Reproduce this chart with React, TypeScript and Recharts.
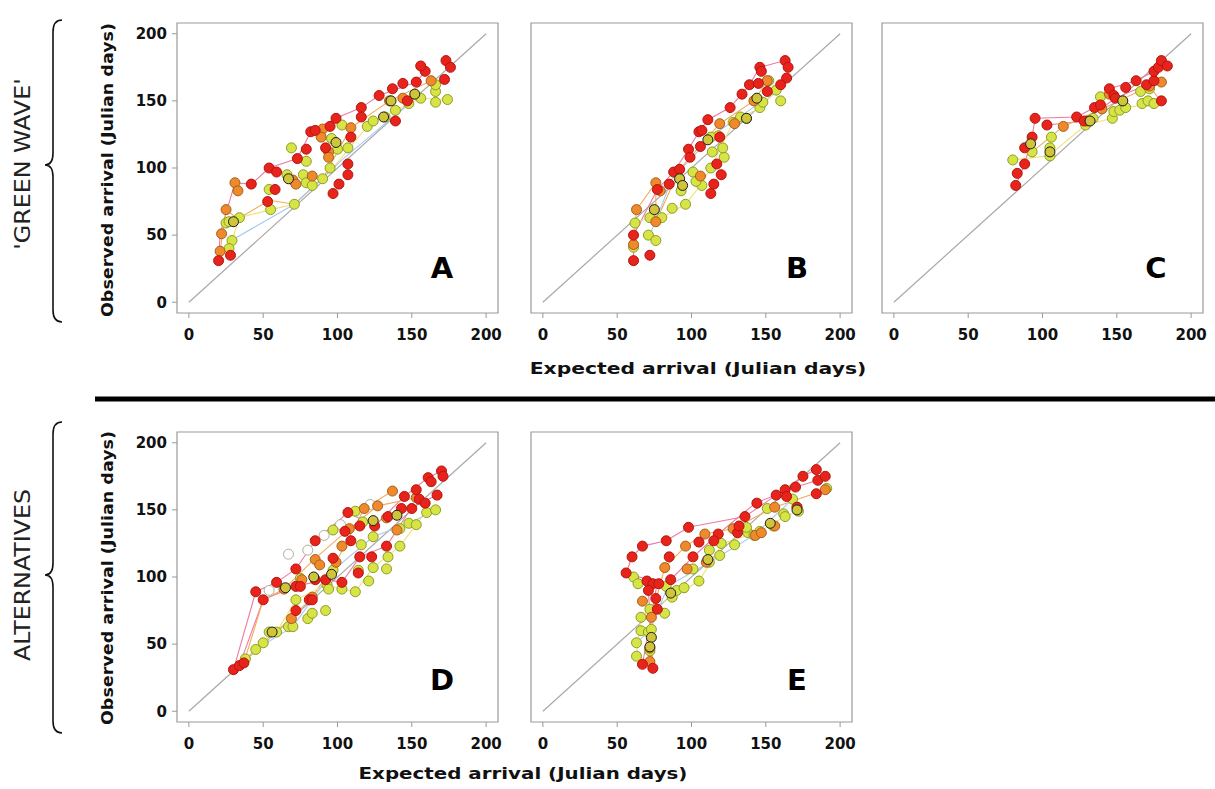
import React from "react";
import { ReferenceArea, ReferenceLine, Scatter, ScatterChart, XAxis, YAxis } from "recharts";

type P = [number, number];

const TICKS = [0, 50, 100, 150, 200];
const DOMAIN: [number, number] = [-8, 208];

// panel A
const aRed: P[] = [[20,31],[28,35],[42,88],[54,100],[59,97],[53,75],[58,84],[82,127],[85,128],[99,137],[95,131],[109,123],[107,103],[107,95],[101,88],[97,81],[92,115],[79,114],[73,107],[116,145],[128,154],[137,159],[144,163],[139,135],[153,164],[159,172],[156,176],[173,180],[176,175],[172,166],[116,138],[147,150]];
const aOrange: P[] = [[31,89],[33,83],[25,69],[22,51],[21,38],[90,129],[94,112],[94,108],[83,94],[70,91],[72,88],[135,150],[144,152],[163,165],[89,123],[109,130]];
const aYellow: P[] = [[25,59],[27,60],[34,63],[29,46],[27,40],[54,84],[55,69],[71,73],[69,115],[66,95],[77,95],[79,89],[83,87],[90,92],[95,100],[96,122],[100,114],[107,115],[103,132],[120,131],[124,135],[132,138],[139,143],[148,148],[156,152],[166,157],[166,149],[174,151],[166,162],[79,105]];
const aDark: P[] = [[30,60],[131,138],[136,150],[152,155],[99,119],[67,92]];
const aPink: P[] = [[20,31],[21,51],[31,89],[42,88],[54,100],[73,107],[82,127],[99,137],[116,145],[128,154],[153,164],[159,172]];
const aOrangeLine: P[] = [[21,38],[25,69],[33,62],[54,76],[71,73],[90,92],[109,130],[135,150],[163,165]];
const aYellowLine: P[] = [[27,40],[29,46],[34,63],[55,69],[71,73],[97,100],[120,131],[139,143],[156,152],[174,151]];
const aBlue: P[] = [[30,47],[71,73],[104,107],[148,148]];

// panel B
const bRed: P[] = [[61,31],[72,35],[61,50],[77,84],[85,88],[88,97],[92,99],[98,114],[99,108],[105,127],[107,128],[111,136],[106,116],[120,95],[117,103],[115,88],[113,81],[126,145],[134,155],[139,162],[146,175],[147,172],[145,163],[151,157],[163,180],[165,175],[164,167],[160,162],[119,123]];
const bOrange: P[] = [[63,69],[76,89],[79,83],[76,60],[61,43],[106,94],[119,133],[129,133],[142,150],[151,165]];
const bYellow: P[] = [[62,59],[61,41],[72,63],[71,50],[76,46],[80,63],[87,70],[96,73],[93,83],[101,97],[107,87],[103,90],[113,100],[122,108],[121,115],[114,112],[118,124],[113,123],[128,134],[133,138],[137,137],[146,145],[148,149],[157,158],[160,150],[152,165]];
const bDark: P[] = [[92,92],[94,87],[111,121],[137,137],[144,152],[75,69]];
const bPink: P[] = [[61,31],[61,50],[77,84],[88,97],[98,114],[105,127],[111,136],[126,145],[139,162],[146,175],[163,180]];
const bOrangeLine: P[] = [[61,43],[63,69],[76,89],[76,60],[92,99],[119,133],[142,150],[151,165]];
const bYellowLine: P[] = [[61,41],[62,59],[72,63],[80,63],[96,73],[106,87],[113,100],[128,134],[146,145],[157,158]];
const bBlue: P[] = [[72,50],[87,92],[115,125],[148,150]];

// panel C
const cRed: P[] = [[82,87],[83,96],[88,103],[88,115],[93,123],[95,137],[103,132],[123,138],[128,135],[135,145],[139,147],[145,159],[148,154],[149,152],[156,160],[163,165],[170,162],[175,165],[175,172],[178,175],[180,180],[184,176],[180,150]];
const cOrange: P[] = [[114,131],[130,135],[140,144],[145,155],[172,161],[180,164]];
const cYellow: P[] = [[80,106],[93,112],[105,115],[105,109],[106,123],[129,132],[134,137],[139,153],[147,137],[148,142],[152,143],[156,145],[166,157],[167,148],[171,150],[175,148],[154,150],[172,159]];
const cDark: P[] = [[132,135],[154,150],[105,112],[92,118]];
const cPink: P[] = [[82,87],[88,103],[93,123],[95,137],[123,138],[135,145],[145,159],[163,165],[175,172],[180,180]];
const cPink2: P[] = [[103,132],[128,135],[149,152],[170,162]];
const cOrangeLine: P[] = [[93,112],[114,131],[140,144],[172,161],[180,149]];
const cYellowLine: P[] = [[80,106],[104,109],[129,132],[147,137],[156,145],[175,148]];

// panel D
const dRed: P[] = [[30,31],[34,34],[37,36],[45,89],[50,83],[59,96],[72,93],[72,75],[72,106],[75,93],[81,83],[83,83],[85,98],[85,127],[92,98],[97,114],[103,96],[107,148],[105,134],[109,127],[115,138],[115,115],[114,103],[123,115],[125,138],[133,123],[134,145],[143,151],[145,160],[150,151],[153,165],[155,158],[161,174],[163,171],[170,179],[171,175],[167,161],[159,155]];
const dOrange: P[] = [[64,91],[69,69],[76,98],[85,113],[88,109],[99,111],[103,123],[108,136],[118,151],[127,153],[137,164],[140,135],[153,159],[83,85],[133,144]];
const dYellow: P[] = [[38,39],[45,46],[50,51],[54,59],[59,59],[67,63],[70,63],[72,83],[75,99],[80,69],[83,73],[92,75],[93,94],[94,91],[97,135],[97,105],[103,91],[112,89],[114,105],[117,141],[121,97],[124,107],[133,106],[134,115],[142,123],[142,136],[148,140],[153,139],[160,148],[166,150],[116,124],[124,130],[112,149]];
const dHollow: P[] = [[67,117],[54,90],[91,131],[80,120],[102,139],[122,154]];
const dDark: P[] = [[65,92],[84,100],[96,102],[124,142],[140,146],[56,59]];
const dPink: P[] = [[30,31],[45,89],[59,96],[72,106],[85,127],[107,148],[125,138],[145,160],[161,174],[170,179]];
const dPink2: P[] = [[34,34],[50,83],[71,93],[93,98],[103,96],[115,115],[133,123],[150,152],[167,161]];
const dOrangeLine: P[] = [[37,36],[50,83],[64,91],[84,113],[108,136],[127,153],[153,159]];
const dOrangeLine2: P[] = [[38,39],[58,59],[69,69],[83,85],[99,111],[118,151],[137,164]];
const dYellowLine: P[] = [[38,39],[50,51],[59,59],[72,83],[92,94],[112,89],[124,107],[142,123],[159,148]];
const dBlue: P[] = [[45,46],[70,63],[97,105],[124,130],[148,140],[166,150]];

// panel E
const eRed: P[] = [[67,35],[74,32],[56,103],[60,115],[67,123],[83,127],[98,137],[85,115],[86,98],[101,115],[105,126],[118,132],[115,127],[70,97],[74,95],[78,95],[71,90],[76,84],[77,76],[131,133],[132,138],[136,145],[144,155],[157,161],[163,165],[170,167],[175,175],[184,180],[185,172],[190,175],[184,162],[164,160],[171,152]];
const eOrange: P[] = [[67,82],[72,37],[72,47],[73,70],[82,107],[96,123],[97,106],[109,132],[110,111],[128,136],[143,131],[156,152],[156,138],[190,165],[147,133]];
const eYellow: P[] = [[63,41],[63,51],[66,60],[66,70],[72,76],[82,73],[71,59],[73,61],[72,45],[61,100],[64,95],[83,93],[87,85],[90,90],[95,92],[105,97],[101,106],[112,111],[112,120],[119,116],[120,125],[129,124],[138,133],[142,131],[146,134],[151,151],[155,138],[162,147],[163,145],[168,158],[171,152],[172,149],[191,166],[137,137]];
const eDark: P[] = [[73,55],[86,88],[111,113],[153,140],[171,150],[72,48]];
const ePink: P[] = [[67,35],[77,96],[56,103],[60,115],[67,123],[83,127],[98,137],[136,145],[157,161],[175,175],[184,180]];
const ePink2: P[] = [[74,32],[71,90],[86,98],[101,115],[118,132],[143,155],[170,167],[185,172]];
const eOrangeLine: P[] = [[72,37],[73,70],[82,107],[96,123],[109,132],[128,136],[156,152],[190,165]];
const eYellowLine: P[] = [[63,41],[66,70],[72,76],[87,85],[105,97],[121,125],[146,134],[163,145],[172,149]];
const eBlue: P[] = [[63,51],[72,60],[84,93],[112,111],[142,131],[168,158]];

const PINK = "#ec7aa2", ORANGE_L = "#f4ab5a", YELLOW_L = "#efe27a", BLUE_L = "#a6c8ee";
const DOT = {
  red: { fill: "#e8231c", stroke: "#b3160f" },
  orange: { fill: "#ee8a2c", stroke: "#a85f1c" },
  yellow: { fill: "#d7e446", stroke: "#8e9c2a" },
  dark: { fill: "#cfc43a", stroke: "#1c1c1c" },
  hollow: { fill: "#ffffff", stroke: "#a9b2a0" },
};

const toXY = (a: P[]) => a.map(([x, y]) => ({ x, y }));

interface Panel {
  key: string; left: number; top: number; yLabels: boolean;
  lines: { data: P[]; color: string }[];
  dots: { data: P[]; style: { fill: string; stroke: string } }[];
}

const panels: Panel[] = [
  { key: "A", left: 132, top: 18, yLabels: true,
    lines: [{ data: aPink, color: PINK }, { data: aOrangeLine, color: ORANGE_L }, { data: aYellowLine, color: YELLOW_L }, { data: aBlue, color: BLUE_L }],
    dots: [{ data: aYellow, style: DOT.yellow }, { data: aOrange, style: DOT.orange }, { data: aRed, style: DOT.red }, { data: aDark, style: DOT.dark }] },
  { key: "B", left: 486, top: 18, yLabels: false,
    lines: [{ data: bPink, color: PINK }, { data: bOrangeLine, color: ORANGE_L }, { data: bYellowLine, color: YELLOW_L }, { data: bBlue, color: BLUE_L }],
    dots: [{ data: bYellow, style: DOT.yellow }, { data: bOrange, style: DOT.orange }, { data: bRed, style: DOT.red }, { data: bDark, style: DOT.dark }] },
  { key: "C", left: 837, top: 18, yLabels: false,
    lines: [{ data: cPink, color: PINK }, { data: cPink2, color: PINK }, { data: cOrangeLine, color: ORANGE_L }, { data: cYellowLine, color: YELLOW_L }],
    dots: [{ data: cYellow, style: DOT.yellow }, { data: cOrange, style: DOT.orange }, { data: cRed, style: DOT.red }, { data: cDark, style: DOT.dark }] },
  { key: "D", left: 132, top: 427, yLabels: true,
    lines: [{ data: dPink, color: PINK }, { data: dPink2, color: PINK }, { data: dOrangeLine, color: ORANGE_L }, { data: dOrangeLine2, color: ORANGE_L }, { data: dYellowLine, color: YELLOW_L }, { data: dBlue, color: BLUE_L }],
    dots: [{ data: dHollow, style: DOT.hollow }, { data: dYellow, style: DOT.yellow }, { data: dOrange, style: DOT.orange }, { data: dRed, style: DOT.red }, { data: dDark, style: DOT.dark }] },
  { key: "E", left: 486, top: 427, yLabels: false,
    lines: [{ data: ePink, color: PINK }, { data: ePink2, color: PINK }, { data: eOrangeLine, color: ORANGE_L }, { data: eYellowLine, color: YELLOW_L }, { data: eBlue, color: BLUE_L }],
    dots: [{ data: eYellow, style: DOT.yellow }, { data: eOrange, style: DOT.orange }, { data: eRed, style: DOT.red }, { data: eDark, style: DOT.dark }] },
];

const FONT = "'DejaVu Sans', Verdana, sans-serif";
const tickStyle = { fontFamily: FONT, fontWeight: "bold", fontSize: 15, fill: "#111" };

function PanelChart({ p }: { p: Panel }) {
  return (
    <div style={{ position: "absolute", left: p.left, top: p.top }}>
      <ScatterChart width={372} height={335} margin={{ top: 5, right: 6, bottom: 0, left: 0 }}>
        <XAxis type="number" dataKey="x" domain={DOMAIN} ticks={TICKS} allowDataOverflow axisLine={false}
          tickLine={{ stroke: "#999" }} tickSize={5} tickMargin={11} height={40} tick={tickStyle} />
        <YAxis type="number" dataKey="y" domain={DOMAIN} ticks={TICKS} allowDataOverflow axisLine={false}
          tickLine={{ stroke: "#999" }} tickSize={5} tickMargin={5} width={45}
          tick={p.yLabels ? tickStyle : false} />
        <ReferenceArea x1={-8} x2={208} y1={-8} y2={208} fill="none" stroke="#9a9a9a" strokeWidth={1.2} />
        <ReferenceLine segment={[{ x: 0, y: 0 }, { x: 200, y: 200 }]} stroke="#a8a8a8" strokeWidth={1.2} />
        {p.lines.map((l, i) => (
          <Scatter key={"l" + i} data={toXY(l.data)} isAnimationActive={false}
            line={{ stroke: l.color, strokeWidth: 1.1 }} shape={() => <g />} />
        ))}
        {p.dots.map((d, i) => (
          <Scatter key={"d" + i} data={toXY(d.data)} isAnimationActive={false}
            shape={(s: any) => <circle cx={s.cx} cy={s.cy} r={5} fill={d.style.fill} stroke={d.style.stroke} strokeWidth={1} />} />
        ))}
      </ScatterChart>
    </div>
  );
}

const letters = [
  { t: "A", x: 442, y: 278 }, { t: "B", x: 797, y: 278 }, { t: "C", x: 1156, y: 278 },
  { t: "D", x: 442, y: 690 }, { t: "E", x: 797, y: 690 },
];

export default function App() {
  return (
    <div style={{ position: "absolute", left: 0, top: 0, width: 1215, height: 789, background: "#fff", overflow: "hidden" }}>
      {panels.map(p => <PanelChart key={p.key} p={p} />)}
      <svg width={1215} height={789} style={{ position: "absolute", left: 0, top: 0, pointerEvents: "none" }}>
        <line x1={95} y1={399} x2={1215} y2={399} stroke="#000" strokeWidth={5} />
        <path d="M62 20 Q53 20 53 32 L53 153 Q53 165 45 165 Q53 165 53 177 L53 310 Q53 322 62 322" fill="none" stroke="#111" strokeWidth={1.6} />
        <path d="M62 422 Q53 422 53 434 L53 563 Q53 575 45 575 Q53 575 53 587 L53 721 Q53 733 62 733" fill="none" stroke="#111" strokeWidth={1.6} />
        <text transform="translate(30,164) rotate(-90) scale(1.08,1)" textAnchor="middle" fontFamily={FONT} fontSize={22} fill="#222">'GREEN WAVE'</text>
        <text transform="translate(30,575) rotate(-90) scale(1.08,1)" textAnchor="middle" fontFamily={FONT} fontSize={22} fill="#222">ALTERNATIVES</text>
        <text transform="translate(113,170) rotate(-90) scale(1.17,1)" textAnchor="middle" fontFamily={FONT} fontWeight="bold" fontSize={15} fill="#111">Observed arrival (Julian days)</text>
        <text transform="translate(113,578) rotate(-90) scale(1.17,1)" textAnchor="middle" fontFamily={FONT} fontWeight="bold" fontSize={15} fill="#111">Observed arrival (Julian days)</text>
        <text transform="translate(698,374) scale(1.27,1)" textAnchor="middle" fontFamily={FONT} fontWeight="bold" fontSize={16} fill="#111">Expected arrival (Julian days)</text>
        <text transform="translate(523,779) scale(1.24,1)" textAnchor="middle" fontFamily={FONT} fontWeight="bold" fontSize={16} fill="#111">Expected arrival (Julian days)</text>
        {letters.map(l => (
          <text key={l.t} x={l.x} y={l.y} textAnchor="middle" fontFamily={FONT} fontWeight="bold" fontSize={29} fill="#000">{l.t}</text>
        ))}
      </svg>
    </div>
  );
}
